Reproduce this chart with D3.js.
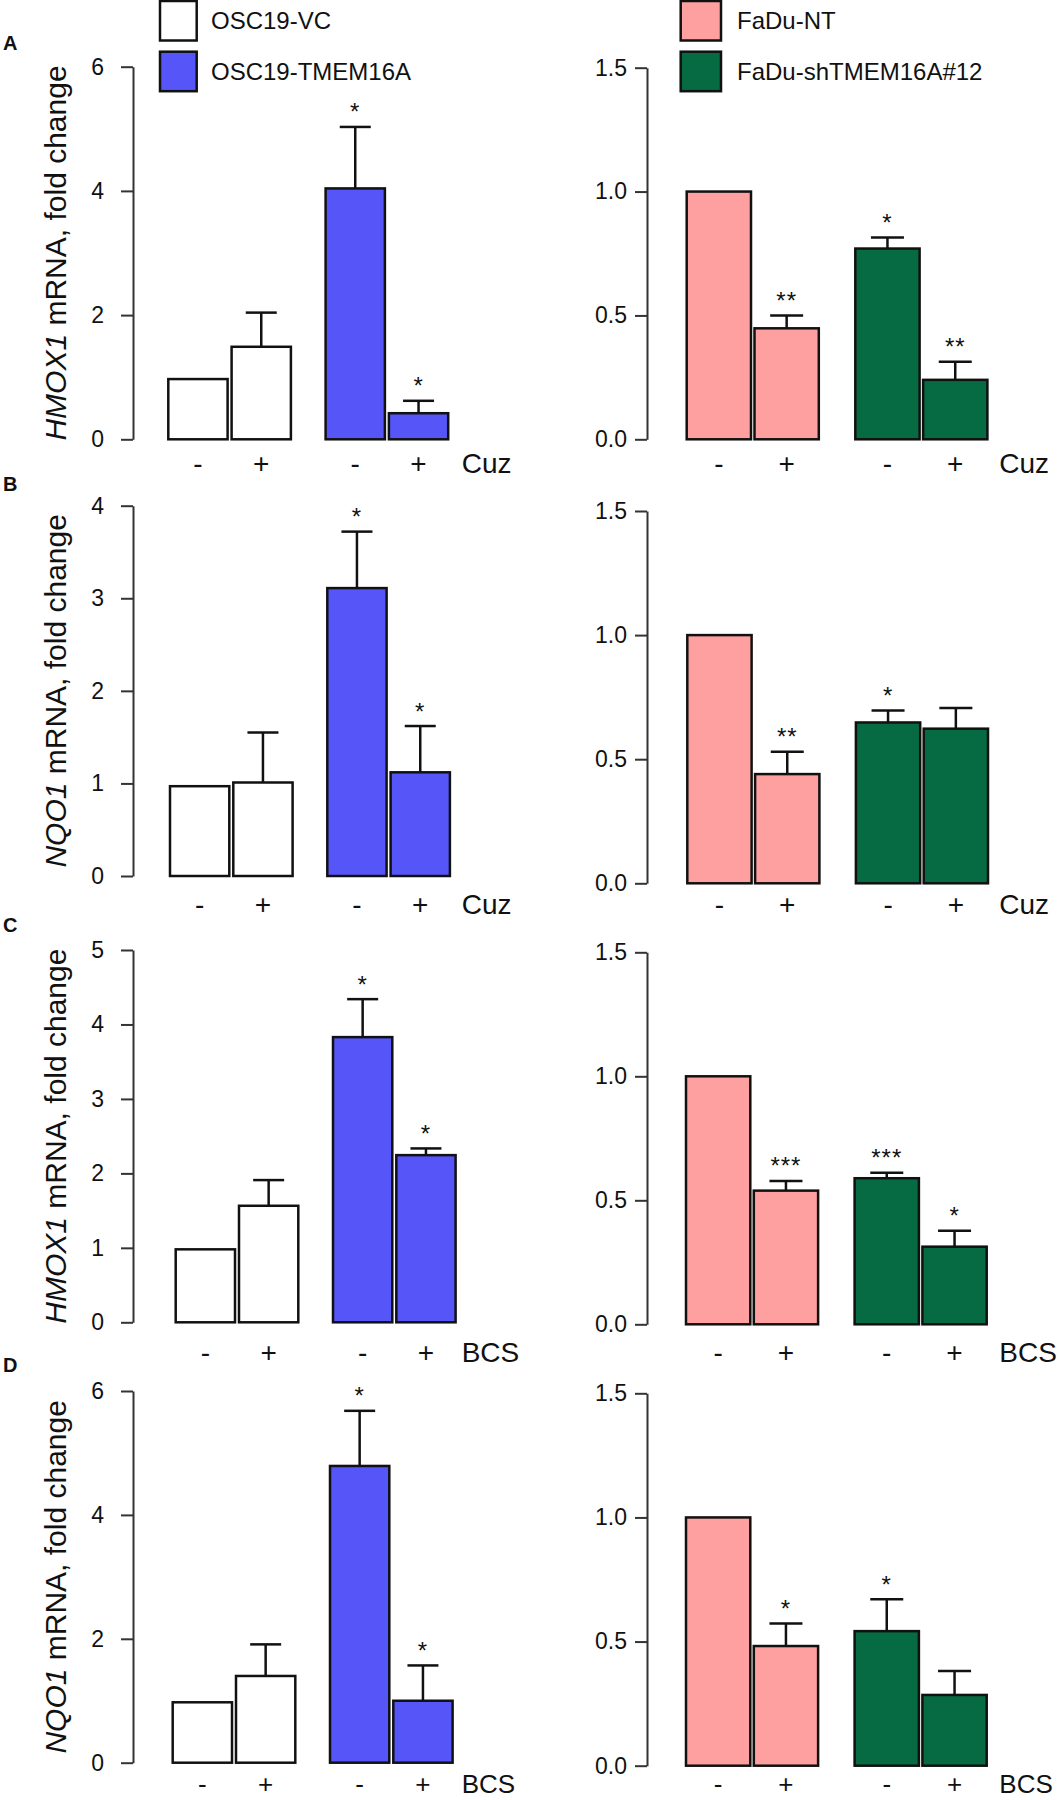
<!DOCTYPE html>
<html><head><meta charset="utf-8">
<script src="https://cdn.jsdelivr.net/npm/d3@7"></script>
<style>body{margin:0;background:#fff} svg{display:block}</style>
</head><body><svg id="chart" width="1064" height="1800"></svg>
<script>
// ---------- DATA ----------
const panelLetters = ["A", "B", "C", "D"];
const genes = ["HMOX1", "NQO1", "HMOX1", "NQO1"];
const agents = ["Cuz", "Cuz", "BCS", "BCS"];
const treatments = ["-", "+", "-", "+"];
const leftSeries = ["OSC19-VC", "OSC19-TMEM16A"];
const rightSeries = ["FaDu-NT", "FaDu-shTMEM16A#12"];
const leftTicks = [[0, 2, 4, 6], [0, 1, 2, 3, 4], [0, 1, 2, 3, 4, 5], [0, 2, 4, 6]];
const rightTicks = [0, 0.5, 1.0, 1.5];

// OSC19 panels (VC -, VC +, TMEM16A -, TMEM16A +)
const leftMeans = [
  [0.97, 1.49, 4.04, 0.42],
  [0.97, 1.01, 3.11, 1.12],
  [0.98, 1.565, 3.83, 2.245],
  [0.975, 1.40, 4.79, 1.00]
];
const leftSem = [
  [0, 0.55, 0.99, 0.20],
  [0, 0.54, 0.61, 0.50],
  [0, 0.345, 0.51, 0.09],
  [0, 0.51, 0.89, 0.57]
];
const leftStars = [
  ["", "", "*", "*"],
  ["", "", "*", "*"],
  ["", "", "*", "*"],
  ["", "", "*", "*"]
];
// FaDu panels (NT -, NT +, sh -, sh +)
const rightMeans = [
  [1.0, 0.448, 0.77, 0.24],
  [1.0, 0.44, 0.648, 0.623],
  [1.0, 0.539, 0.589, 0.313],
  [1.0, 0.482, 0.542, 0.285]
];
const rightSem = [
  [0, 0.052, 0.045, 0.073],
  [0, 0.09, 0.048, 0.083],
  [0, 0.039, 0.022, 0.064],
  [0, 0.091, 0.128, 0.096]
];
const rightStars = [
  ["", "**", "*", "**"],
  ["", "**", "*", ""],
  ["", "***", "***", "*"],
  ["", "*", "*", ""]
];
const leftColors = ["#ffffff", "#5555f8"];
const rightColors = ["#ffa0a0", "#066b42"];

// ---------- LAYOUT ----------
const FONT = "'Liberation Sans', Arial, Helvetica, sans-serif";
const rowsLeftY = [[66.7, 439.3], [505.7, 876], [950, 1322.3], [1391, 1762.7]];
const rowsRightY = [[67.7, 439.3], [511, 883.3], [952.3, 1324.3], [1393.3, 1765.7]];
const leftBarX0 = [168.3, 170, 175.7, 172.7];
const rightBarX0 = [686.7, 687.3, 686, 686];
const xLabelY = [463.3, 904, 1352, 1784];
const xLabelSize = [28, 28, 28, 26];
const letterY = [43, 484, 925, 1365];
const leftGeom = {axisX: 133, barW: 59.3, inGap: 4, grpGap: 34.7, capW: 31, tickPad: 17, agentX: 461.7, fmt: d3.format("d")};
const rightGeom = {axisX: 647, barW: 64.3, inGap: 3.5, grpGap: 36.5, capW: 33, tickPad: 8, agentX: 999.3, fmt: d3.format(".1f")};

const svg = d3.select("#chart");
svg.append("rect").attr("width", 1064).attr("height", 1800).attr("fill", "#fff");

function drawPanel(row, geom, yr, ticks, means, sem, stars, x0, colors) {
  const g = svg.append("g");
  const y = d3.scaleLinear().domain([0, d3.max(ticks)]).range([yr[1], yr[0]]);
  const groupW = 2 * geom.barW + geom.inGap;
  const gx = d3.scaleBand().domain([0, 1]).range([x0, x0 + 2 * groupW + geom.grpGap])
    .paddingInner(geom.grpGap / (groupW + geom.grpGap)).paddingOuter(0);
  const bx = d3.scaleBand().domain([0, 1]).range([0, groupW])
    .paddingInner(geom.inGap / (geom.barW + geom.inGap)).paddingOuter(0);

  const axis = d3.axisLeft(y).tickValues(ticks).tickSize(12).tickSizeOuter(0)
    .tickPadding(geom.tickPad).tickFormat(geom.fmt);
  const ag = g.append("g").attr("transform", `translate(${geom.axisX},0)`).call(axis);
  ag.select(".domain").attr("stroke", "#333").attr("stroke-width", 2);
  ag.selectAll(".tick line").attr("stroke", "#333").attr("stroke-width", 2);
  ag.selectAll(".tick text").attr("fill", "#111").attr("font-size", 23)
    .attr("font-family", FONT);

  const data = means.map((m, i) => ({m, s: sem[i], star: stars[i], grp: i >> 1, sub: i & 1, t: treatments[i]}));
  const cx = d => gx(d.grp) + bx(d.sub) + bx.bandwidth() / 2;

  g.selectAll("line.err").data(data.filter(d => d.s > 0)).join("line")
    .attr("x1", cx).attr("x2", cx)
    .attr("y1", d => y(d.m)).attr("y2", d => y(d.m + d.s))
    .attr("stroke", "#111").attr("stroke-width", 2.5);
  g.selectAll("line.cap").data(data.filter(d => d.s > 0)).join("line")
    .attr("x1", d => cx(d) - geom.capW / 2).attr("x2", d => cx(d) + geom.capW / 2)
    .attr("y1", d => y(d.m + d.s)).attr("y2", d => y(d.m + d.s))
    .attr("stroke", "#111").attr("stroke-width", 2.5);

  g.selectAll("rect.bar").data(data).join("rect")
    .attr("x", d => gx(d.grp) + bx(d.sub)).attr("width", bx.bandwidth())
    .attr("y", d => y(d.m)).attr("height", d => y(0) - y(d.m))
    .attr("fill", d => colors[d.grp]).attr("stroke", "#111").attr("stroke-width", 2.5);

  g.selectAll("text.star").data(data.filter(d => d.star)).join("text")
    .attr("x", cx).attr("y", d => y(d.m + d.s) - 6.5)
    .attr("text-anchor", "middle").attr("font-size", 24).attr("letter-spacing", 1)
    .attr("font-family", FONT).attr("fill", "#111").text(d => d.star);

  g.selectAll("text.tr").data(data).join("text")
    .attr("x", cx).attr("y", xLabelY[row]).attr("text-anchor", "middle")
    .attr("dominant-baseline", "central").attr("font-size", xLabelSize[row])
    .attr("font-family", FONT).attr("fill", "#111").text(d => d.t);

  g.append("text").attr("x", geom.agentX).attr("y", xLabelY[row])
    .attr("dominant-baseline", "central").attr("font-size", xLabelSize[row])
    .attr("font-family", FONT).attr("fill", "#111").text(agents[row]);
  return y;
}

for (let r = 0; r < 4; r++) {
  drawPanel(r, leftGeom, rowsLeftY[r], leftTicks[r], leftMeans[r], leftSem[r], leftStars[r], leftBarX0[r], leftColors);
  drawPanel(r, rightGeom, rowsRightY[r], rightTicks, rightMeans[r], rightSem[r], rightStars[r], rightBarX0[r], rightColors);

  // panel letter
  svg.append("text").attr("x", 3).attr("y", letterY[r]).attr("dominant-baseline", "central")
    .attr("font-size", 20).attr("font-weight", "bold").attr("font-family", FONT)
    .attr("fill", "#111").text(panelLetters[r]);

  // y-axis label
  const mid = (rowsLeftY[r][0] + rowsLeftY[r][1]) / 2;
  const yl = svg.append("text").attr("transform", `translate(55,${mid}) rotate(-90)`)
    .attr("text-anchor", "middle").attr("dominant-baseline", "central")
    .attr("font-size", 30).attr("font-family", FONT).attr("fill", "#111");
  yl.append("tspan").attr("font-style", "italic").text(genes[r]);
  yl.append("tspan").text(" mRNA, fold change");
}

// legends
function legend(x, tx, names, colors, w) {
  const ys = [1, 51.7];
  names.forEach((n, i) => {
    svg.append("rect").attr("x", x).attr("y", ys[i]).attr("width", w).attr("height", 39.5)
      .attr("fill", colors[i]).attr("stroke", "#111").attr("stroke-width", 2.5);
    svg.append("text").attr("x", tx).attr("y", ys[i] + 19.5).attr("dominant-baseline", "central")
      .attr("font-size", 24).attr("font-family", FONT).attr("fill", "#111").text(n);
  });
}
legend(160, 211, leftSeries, leftColors, 36.7);
legend(680.7, 737, rightSeries, rightColors, 40.3);
</script>
</body></html>
